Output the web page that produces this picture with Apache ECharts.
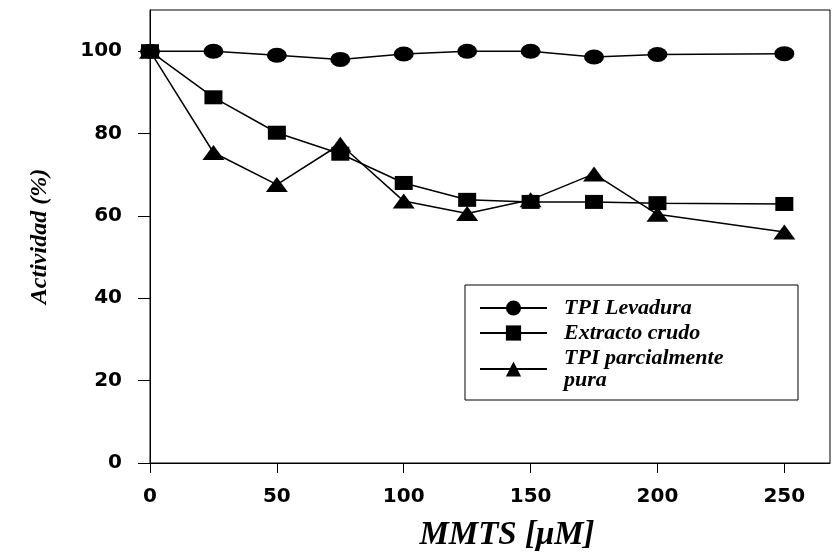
<!DOCTYPE html>
<html>
<head>
<meta charset="utf-8">
<script src="https://cdn.jsdelivr.net/npm/echarts@6/dist/echarts.min.js"></script>
<style>
  html, body { margin: 0; padding: 0; background: #fff; }
  #chart { width: 837px; height: 552px; }
</style>
</head>
<body>
<div id="chart"></div>
<script>
  // MMTS concentration (uM)
  const mmts = [0, 25, 50, 75, 100, 125, 150, 175, 200, 250]
  // actividad (%)
  const tpiLevadura = [100, 100, 99, 98, 99.3, 100, 100, 98.6, 99.2, 99.4]
  const extractoCrudo = [100, 88.8, 80.2, 75.1, 68, 63.9, 63.4, 63.4, 63.1, 62.9]
  const tpiParcial = [100, 75.4, 67.6, 77.4, 63.6, 60.6, 63.9, 70.2, 60.4, 56.1]

  const xTicks = [0, 50, 100, 150, 200, 250]
  const yTicks = [0, 20, 40, 60, 80, 100]

  const seriesNames = ['TPI Levadura', 'Extracto crudo', 'TPI parcialmente\npura']

  const pairs = ys => mmts.map((x, i) => [x, ys[i]])

  const tickFont = {
    color: '#000',
    fontFamily: 'DejaVu Sans',
    fontWeight: 'bold',
    fontSize: 20
  }
  const titleFont = {
    color: '#000',
    fontFamily: 'Liberation Serif',
    fontStyle: 'italic',
    fontWeight: 'bold'
  }

  const lineSeries = (name, data, symbol, size) => ({
    name: name,
    type: 'line',
    data: data,
    symbol: symbol,
    symbolSize: size,
    showAllSymbol: true,
    itemStyle: { color: '#000' },
    lineStyle: { color: '#000', width: 1.5 },
    animation: false
  })

  const chart = echarts.init(document.getElementById('chart'), null, { renderer: 'canvas' })

  chart.setOption({
    backgroundColor: '#fff',
    grid: {
      left: 150,
      right: 7,
      top: 10,
      bottom: 89,
      outerBoundsMode: 'none',
      show: true,
      borderColor: '#000',
      borderWidth: 1
    },
    legend: {
      orient: 'vertical',
      left: 465,
      top: 285,
      padding: [12, 20, 9, 14],
      itemGap: 3,
      itemWidth: 67,
      itemHeight: 19,
      borderColor: '#000',
      borderWidth: 1,
      data: seriesNames,
      textStyle: Object.assign({}, titleFont, {
        fontSize: 22, lineHeight: 22, width: 214, padding: [0, 0, 0, 12]
      })
    },
    xAxis: {
      type: 'value',
      min: 0,
      max: 268,
      name: 'MMTS [\u03bcM]',
      nameLocation: 'middle',
      nameGap: 56,
      nameTextStyle: Object.assign({}, titleFont, { fontSize: 33, padding: [0, 0, 0, 34] }),
      splitLine: { show: false },
      axisLine: { lineStyle: { color: '#000', width: 1 } },
      axisTick: { length: 10, customValues: xTicks, lineStyle: { color: '#000' } },
      axisLabel: Object.assign({ margin: 24, customValues: xTicks }, tickFont)
    },
    yAxis: {
      type: 'value',
      min: 0,
      max: 110,
      name: 'Actividad (%)',
      nameLocation: 'middle',
      nameGap: 98,
      nameTextStyle: Object.assign({}, titleFont, { fontSize: 24 }),
      splitLine: { show: false },
      axisLine: { lineStyle: { color: '#000', width: 1 } },
      axisTick: { length: 12, customValues: yTicks, lineStyle: { color: '#000' } },
      axisLabel: Object.assign({ margin: 28, customValues: yTicks }, tickFont)
    },
    series: [
      lineSeries(seriesNames[0], pairs(tpiLevadura), 'circle', [20, 15]),
      lineSeries(seriesNames[1], pairs(extractoCrudo), 'rect', [18, 14]),
      lineSeries(seriesNames[2], pairs(tpiParcial), 'triangle', [22, 15])
    ]
  })
</script>
</body>
</html>
